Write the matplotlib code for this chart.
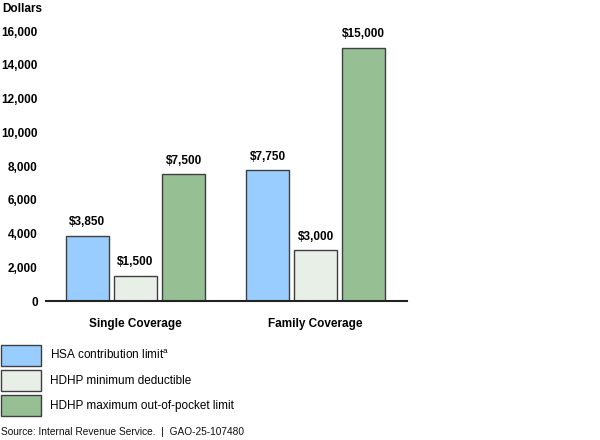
import matplotlib
matplotlib.use("Agg")
import matplotlib.pyplot as plt
from matplotlib.patches import Rectangle
import numpy as np

plt.rcParams['font.family'] = ['Liberation Sans', 'DejaVu Sans']
plt.rcParams['mathtext.fontset'] = 'custom'
plt.rcParams['mathtext.rm'] = 'Liberation Sans'

# data
groups = ['Single Coverage', 'Family Coverage']
series = ['HSA contribution limit$^{\\mathrm{a}}$',
          'HDHP minimum deductible',
          'HDHP maximum out-of-pocket limit']
hsa_limit = [3850, 7750]
min_deductible = [1500, 3000]
max_oop = [7500, 15000]
yticks = [0, 2000, 4000, 6000, 8000, 10000, 12000, 14000, 16000]

colors = ['#99ccff', '#e8efe6', '#96bf94']
edge = '#3f3f3f'

fig = plt.figure(figsize=(6, 4.4), dpi=100)
ax = fig.add_axes([46 / 600, 1 - 301 / 440, 361 / 600, 270 / 440])

x = np.arange(len(groups))
w = 0.239
step = 0.267
for i, vals in enumerate([hsa_limit, min_deductible, max_oop]):
    pos = x + (i - 1) * step
    ax.bar(pos, vals, width=w, color=colors[i], edgecolor=edge, linewidth=1, zorder=2)
    for p, v in zip(pos, vals):
        ax.text(p, v + 450, '${:,}'.format(v), ha='center', va='bottom',
                fontsize=8.5, fontweight='bold', clip_on=False)

ax.set_xlim(-0.497, 1.508)
ax.set_ylim(0, 16000)
ax.set_yticks(yticks)
ax.set_yticklabels(['{:,}'.format(t) for t in yticks], fontsize=8.5, fontweight='bold')
ax.set_xticks(x)
ax.set_xticklabels(groups, fontsize=8.5, fontweight='bold')
ax.tick_params(axis='both', length=0)
ax.tick_params(axis='y', pad=6)
ax.tick_params(axis='x', pad=12)
for s in ['top', 'right', 'left']:
    ax.spines[s].set_visible(False)
ax.spines['bottom'].set_linewidth(1.5)
ax.spines['bottom'].set_color('#222222')
ax.spines['bottom'].set_zorder(3)

fig.text(2 / 600, 1 - 9 / 440, 'Dollars', fontsize=8.5, fontweight='bold', va='center')

# legend drawn as boxes
for i, lab in enumerate(series):
    top = 345 + i * 25
    fig.add_artist(Rectangle((0.5 / 600, 1 - (top + 21) / 440), 40.5 / 600, 21 / 440,
                             transform=fig.transFigure, facecolor=colors[i],
                             edgecolor=edge, linewidth=1))
    fig.text(50 / 600, 1 - (top + 10.5) / 440, lab, fontsize=8.5, va='center')

fig.text(1 / 600, 1 - 432 / 440, 'Source: Internal Revenue Service.  |  GAO-25-107480',
         fontsize=7.3, va='center', color='#111111')

fig.savefig('out.png', dpi=100)
